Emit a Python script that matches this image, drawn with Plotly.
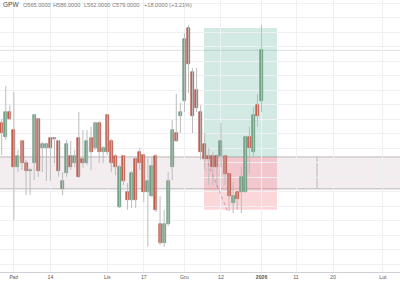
import plotly.graph_objects as go

# ---- data ----
opens = [559.0, 555.1, 562.0, 557.0, 546.8, 554.0, 547.9, 545.7, 547.9, 560.1,
         552.1, 552.1, 554.8, 554.8, 554.0, 540.8, 545.2, 549.9, 547.9, 554.8,
         549.0, 547.9, 554.8, 552.1, 559.0, 551.0, 561.2, 554.0, 549.9, 535.8,
         549.9, 539.9, 537.7, 549.0, 551.0, 550.1, 539.9, 538.8, 549.9, 531.1,
         525.9, 531.1, 546.8, 556.2, 560.9, 565.0, 585.2, 573.0, 568.1, 562.0,
         553.2, 549.9, 549.9, 549.9, 549.9, 549.9, 544.9, 536.9, 539.9, 539.9,
         539.9, 555.1, 551.0, 563.9, 565.0]
highs = [560.1, 569.2, 563.9, 567.5, 551.5, 554.3, 548.8, 546.6, 561.5, 560.3,
         553.7, 553.5, 555.1, 555.1, 554.3, 545.4, 554.3, 554.0, 551.5, 562.0,
         557.0, 557.0, 557.9, 559.2, 559.5, 552.6, 561.5, 554.6, 550.4, 547.4,
         550.1, 542.4, 545.7, 549.6, 552.1, 550.4, 549.6, 549.6, 550.4, 538.8,
         535.0, 545.4, 559.8, 567.0, 564.5, 583.8, 586.0, 574.1, 574.1, 563.9,
         556.2, 552.1, 551.0, 550.0, 559.0, 550.1, 545.0, 542.7, 540.0, 546.8,
         555.2, 557.9, 563.4, 567.0, 586.0]
lows = [550.1, 554.3, 559.8, 532.2, 545.4, 546.0, 539.1, 539.1, 543.2, 544.1,
        545.4, 543.0, 543.0, 547.9, 544.1, 539.1, 544.1, 546.0, 546.8, 543.8,
        546.6, 547.4, 546.0, 551.5, 547.9, 547.9, 550.1, 545.4, 544.6, 535.5,
        541.9, 535.0, 535.5, 535.5, 546.0, 537.2, 524.8, 538.5, 534.4, 525.3,
        524.8, 530.6, 543.2, 553.7, 556.2, 562.0, 567.2, 556.2, 562.0, 548.8,
        546.0, 541.9, 541.9, 541.3, 546.8, 541.9, 534.7, 534.1, 535.0, 534.1,
        539.8, 544.9, 549.9, 557.9, 562.0]
closes = [556.2, 562.0, 560.1, 546.8, 549.9, 547.9, 545.7, 546.0, 561.2, 545.7,
          553.2, 553.2, 552.1, 554.6, 545.7, 543.0, 553.2, 546.8, 549.9, 544.1,
          547.9, 554.0, 551.0, 559.0, 551.0, 552.1, 551.0, 547.9, 546.8, 546.8,
          543.0, 537.7, 545.2, 537.7, 547.9, 539.9, 543.0, 547.1, 535.0, 525.9,
          531.1, 543.0, 557.0, 554.0, 562.0, 582.1, 575.2, 560.9, 563.1, 551.0,
          549.0, 549.0, 546.8, 546.8, 554.0, 544.9, 538.8, 538.8, 538.0, 544.1,
          555.1, 552.1, 561.2, 561.0, 579.0]

tick_pos = [3, 12, 26, 35, 45, 54, 64, 72.5, 81.6, 93.9]
tick_labels = ["Paź", "14", "Lis", "17", "Gru", "12", "<b>2026</b>", "11", "20", "Lut"]

header_texts = ["O565.0000", "H586.0000", "L562.0000", "C579.0000", "+18.0000 (+3.21%)"]
header_x = [20.5, 51, 82, 110, 142]

# position tool / zones
band_low, band_high = 540.8, 549.6
band_split = 77.66
pos_x0, pos_x1 = 49.83, 67.8
entry, target, stop = 549.6, 585.2, 535.0
last_price = 579.0

n = len(opens)
idx = list(range(n))

GREEN = "#72a386"
GREEN_LINE = "#5f8f72"
RED = "#c8604f"
RED_LINE = "#b24f40"

fig = go.Figure()

# wicks
wx, wy = [], []
for i in idx:
    wx += [i, i, None]
    wy += [lows[i], highs[i], None]
fig.add_trace(go.Scatter(x=wx, y=wy, mode="lines",
                         line=dict(color="#bcbcbc", width=1),
                         hoverinfo="skip", showlegend=False))

# bodies
base = [min(o, c) for o, c in zip(opens, closes)]
height = [max(abs(c - o), 0.25) for o, c in zip(opens, closes)]
cols = [GREEN if c >= o else RED for o, c in zip(opens, closes)]
lcols = [GREEN_LINE if c >= o else RED_LINE for o, c in zip(opens, closes)]
fig.add_trace(go.Bar(x=idx, y=height, base=base, width=0.74,
                     marker=dict(color=cols, line=dict(color=lcols, width=0.6)),
                     hoverinfo="skip", showlegend=False))

shapes = []
# gray band
shapes.append(dict(type="rect", xref="x", yref="y", x0=-5, x1=120,
                   y0=band_low, y1=band_high,
                   fillcolor="rgba(224,208,215,0.38)",
                   line=dict(color="#bab6b8", width=1), layer="below"))
shapes.append(dict(type="line", xref="x", yref="y", x0=band_split, x1=band_split,
                   y0=band_low, y1=band_high,
                   line=dict(color="#bab6b8", width=1), layer="below"))
# long position tool
shapes.append(dict(type="rect", xref="x", yref="y", x0=pos_x0, x1=pos_x1,
                   y0=entry, y1=target, fillcolor="rgba(34,151,120,0.2)",
                   line=dict(width=0), layer="below"))
shapes.append(dict(type="rect", xref="x", yref="y", x0=pos_x0, x1=pos_x1,
                   y0=stop, y1=entry, fillcolor="rgba(242,54,69,0.2)",
                   line=dict(width=0), layer="below"))
shapes.append(dict(type="line", xref="x", yref="y", x0=50.8, x1=55.7,
                   y0=547.9, y1=534.4,
                   line=dict(color="rgba(225,110,130,0.7)", width=1, dash="dot")))
# last price line
shapes.append(dict(type="line", xref="paper", yref="y", x0=0, x1=1,
                   y0=last_price, y1=last_price,
                   line=dict(color="rgba(175,178,190,0.4)", width=1), layer="below"))

annotations = [dict(text="GPW", x=1.0 / 400, y=1 - 4.5 / 272, xref="paper", yref="paper",
                    xanchor="left", yanchor="middle", showarrow=False,
                    font=dict(size=6.5, color="#4a4a4a", family="Liberation Sans"))]
for t, xp in zip(header_texts, header_x):
    annotations.append(dict(text=t, x=xp / 400, y=1 - 4.5 / 272, xref="paper", yref="paper",
                            xanchor="left", yanchor="middle", showarrow=False,
                            font=dict(size=5.6, color="#7c7c7c", family="Liberation Sans")))

fig.update_layout(
    width=400, height=284,
    margin=dict(l=0, r=0, t=0, b=12),
    paper_bgcolor="white", plot_bgcolor="white",
    barmode="overlay", bargap=0,
    shapes=shapes, annotations=annotations,
    showlegend=False,
    font=dict(family="Liberation Sans", size=5.2, color="#555555"),
)
fig.update_xaxes(range=[-0.419, 98.1], tickmode="array", tickvals=tick_pos,
                 ticktext=tick_labels, showgrid=True, gridcolor="#eef0f4", gridwidth=1,
                 zeroline=False, showline=True, linecolor="#cfd1d6", linewidth=1,
                 ticks="", tickfont=dict(size=5.2, color="#555555"))
fig.update_yaxes(range=[517.86, 592.9], dtick=4, tick0=0, showgrid=True,
                 gridcolor="#eef0f4", gridwidth=1, zeroline=False,
                 showticklabels=False, ticks="")

fig.write_html("out.html")
